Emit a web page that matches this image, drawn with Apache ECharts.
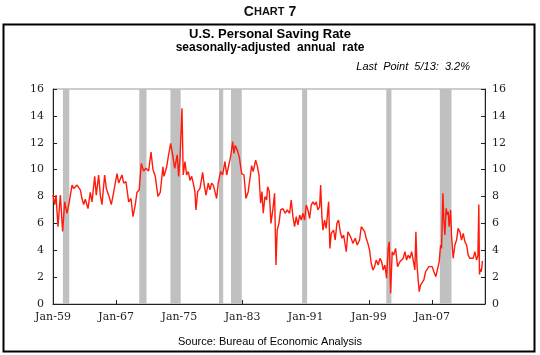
<!DOCTYPE html>
<html>
<head>
<meta charset="utf-8">
<script src="https://cdn.jsdelivr.net/npm/echarts@6/dist/echarts.min.js"></script>
<style>
html,body{margin:0;padding:0;background:#fff;}
#chart{width:540px;height:355px;}
</style>
</head>
<body>
<div id="chart"></div>
<script>
// Decimal-year dates and personal saving rate (%)
const dates = [
1959.0,1959.21,1959.38,1959.63,1959.93,1960.22,1960.48,1960.77,1961.06,1961.41,1961.62,1962.04,1962.46,1962.67,1962.88,
1963.09,1963.43,1963.72,1963.94,1964.28,1964.48,1964.78,1964.99,1965.2,1965.54,1965.75,1966.05,1966.38,1966.68,1967.1,
1967.32,1967.73,1967.95,1968.24,1968.58,1968.87,1969.13,1969.42,1969.63,1969.92,1970.18,1970.48,1970.77,1971.11,1971.41,
1971.66,1971.95,1972.29,1972.58,1972.92,1973.05,1973.39,1973.6,1973.9,1974.15,1974.41,1974.57,1974.73,1974.91,1975.08,
1975.33,1975.49,1975.71,1975.92,1976.13,1976.34,1976.56,1976.76,1976.97,1977.1,1977.32,1977.61,1977.95,1978.15,1978.37,
1978.66,1978.87,1979.09,1979.29,1979.51,1979.72,1979.92,1980.23,1980.48,1980.77,1980.99,1981.19,1981.49,1981.75,1981.91,
1982.08,1982.33,1982.58,1982.89,1983.18,1983.43,1983.72,1983.94,1984.15,1984.35,1984.66,1984.86,1985.08,1985.29,1985.46,
1985.62,1985.84,1986.05,1986.18,1986.38,1986.6,1986.85,1987.06,1987.23,1987.39,1987.61,1987.82,1988.11,1988.41,1988.66,
1988.96,1989.16,1989.38,1989.59,1989.8,1990.01,1990.23,1990.43,1990.65,1990.86,1991.06,1991.28,1991.49,1991.7,1991.91,
1992.13,1992.33,1992.54,1992.76,1992.89,1993.05,1993.18,1993.39,1993.59,1993.9,1994.06,1994.23,1994.53,1994.73,1994.95,
1995.16,1995.37,1995.58,1995.8,1996.0,1996.13,1996.34,1996.56,1996.76,1996.97,1997.27,1997.52,1997.82,1998.03,1998.24,
1998.46,1998.66,1998.87,1999.09,1999.29,1999.51,1999.72,1999.92,2000.18,2000.39,2000.61,2000.81,2001.03,2001.24,2001.44,
2001.57,2001.75,2001.95,2002.13,2002.38,2002.63,2002.92,2003.14,2003.34,2003.56,2003.77,2003.97,2004.19,2004.41,2004.61,
2004.82,2004.95,2005.08,2005.24,2005.37,2005.54,2005.75,2005.96,2006.18,2006.38,2006.59,2006.81,2007.01,2007.23,2007.48,
2007.7,2007.9,2008.08,2008.2,2008.37,2008.49,2008.62,2008.78,2008.91,2009.04,2009.16,2009.34,2009.47,2009.67,2009.89,
2010.1,2010.3,2010.52,2010.73,2010.94,2011.15,2011.37,2011.57,2011.78,2012.0,2012.2,2012.42,2012.63,2012.8,2012.92,
2013.0,2013.1,2013.2,2013.3,2013.37
];
const rates = [
8.1,7.4,8.1,5.75,8.1,5.4,7.6,6.75,7.6,8.85,8.6,8.85,8.5,7.85,7.4,
7.8,7.1,8.3,7.6,9.5,8.1,9.6,8.1,7.4,9.6,8.6,8.1,7.4,8.3,9.7,
9.0,9.6,9.0,9.1,7.6,7.85,6.5,7.4,8.3,8.5,10.45,9.9,10.1,9.9,11.3,
10.0,9.5,8.0,8.3,10.2,9.5,10.2,10.96,11.95,11.1,10.1,10.6,11.1,9.5,10.8,
14.56,9.6,10.6,9.6,9.85,9.2,9.5,9.0,8.36,7.0,8.36,8.6,9.8,8.85,8.1,
9.0,8.5,9.0,8.85,8.36,7.85,9.0,9.85,9.6,10.6,9.6,9.5,10.96,12.08,11.2,
11.8,11.45,10.96,9.7,9.6,7.85,8.36,9.35,10.3,9.85,10.7,10.3,9.6,7.5,8.36,
6.75,8.0,7.74,8.73,8.4,6.0,7.1,8.24,2.9,5.5,6.0,7.0,7.1,6.75,7.0,
6.75,7.74,6.5,5.75,6.5,5.88,6.62,6.25,6.75,6.25,7.37,7.0,6.37,7.37,7.6,
7.37,7.6,7.0,7.24,8.85,6.5,5.5,6.25,5.63,7.6,4.14,5.26,5.5,4.76,6.0,
6.25,5.38,4.89,5.13,4.39,3.89,5.38,5.13,4.89,4.51,4.89,4.39,4.76,5.75,5.88,
5.38,4.89,4.51,4.0,3.03,2.53,2.78,3.27,2.9,3.4,3.15,2.53,2.9,1.91,4.14,
4.64,0.8,3.89,3.64,4.14,2.78,3.15,3.03,3.4,3.89,3.27,3.64,3.4,3.89,3.27,
2.53,5.38,3.03,1.79,0.92,1.41,1.29,1.79,2.4,2.53,2.78,2.65,2.78,2.4,2.03,
2.15,3.15,4.39,4.14,8.24,6.25,5.13,7.12,6.63,6.87,5.75,7.0,5.0,3.4,4.39,
4.76,5.63,5.38,4.76,5.26,4.64,4.39,3.64,3.4,3.52,3.4,3.89,3.27,3.6,7.4,
2.2,2.6,2.4,2.7,3.2
];
// Recession periods (decimal years)
const recStarts = [1960.25,1969.92,1973.87,1980.02,1981.54,1990.54,2001.2,2007.98];
const recEnds   = [1961.06,1970.84,1975.17,1980.55,1982.9,1991.18,2001.85,2009.46];
const yTicks = [0,2,4,6,8,10,12,14,16];

const lineData = dates.map((d,i)=>[d,rates[i]]);
const areas = recStarts.map((s,i)=>[{xAxis:s},{xAxis:recEnds[i]}]);

const chart = echarts.init(document.getElementById('chart'), null, {renderer:'canvas'});
const serif = 'DejaVu Serif';
const yLab = {fontFamily:serif,fontSize:11,color:'#222'};
chart.setOption({
  animation:false,
  backgroundColor:'#fff',
  graphic:[
    {type:'rect',shape:{x:3.5,y:24.5,width:531,height:327},style:{fill:null,stroke:'#000',lineWidth:2}},
    {type:'text',left:'center',top:5,style:{
      text:'{a|C}{b|HART}{a| 7}',
      rich:{a:{fontFamily:'Liberation Sans',fontWeight:'bold',fontSize:14,fill:'#111'},
            b:{fontFamily:'Liberation Sans',fontWeight:'bold',fontSize:11,fill:'#111'}}}},
    {type:'text',left:'center',top:28,style:{text:'U.S. Personal Saving Rate',fontFamily:'Liberation Sans',fontWeight:'bold',fontSize:13,fill:'#000'}},
    {type:'text',left:'center',top:42,style:{text:'seasonally-adjusted  annual  rate',fontFamily:'Liberation Sans',fontWeight:'bold',fontSize:12,fill:'#000'}},
    {type:'text',right:70,top:61,style:{text:'Last  Point  5/13:  3.2%',fontFamily:'Liberation Sans',fontStyle:'italic',fontSize:11,fill:'#000'}},
    {type:'text',left:'center',top:336,style:{text:'Source: Bureau of Economic Analysis',fontFamily:'Liberation Sans',fontSize:11,fill:'#000'}}
  ],
  grid:{left:53,right:55,top:89,bottom:51,show:true,borderColor:'#999',borderWidth:1},
  xAxis:{
    type:'value',min:1959,max:2013.7,interval:8,
    axisLine:{show:true,lineStyle:{color:'#222',width:1}},
    axisTick:{show:true,inside:true,length:4,lineStyle:{color:'#222'}},
    splitLine:{show:false},
    axisLabel:{fontFamily:serif,fontSize:11,color:'#222',margin:8,showMaxLabel:false,
      formatter:function(v){ if((v-1959)%8!==0) return ''; return 'Jan-'+String(v).slice(2,4);}}
  },
  yAxis:[
    {type:'value',min:0,max:16,interval:2,position:'left',
     axisLine:{show:true,lineStyle:{color:'#222'}},
     axisTick:{show:true,inside:true,length:4,lineStyle:{color:'#222'}},
     splitLine:{show:false},
     axisLabel:Object.assign({margin:9},yLab)},
    {type:'value',min:0,max:16,interval:2,position:'right',
     axisLine:{show:true,lineStyle:{color:'#222'}},
     axisTick:{show:true,inside:true,length:4,lineStyle:{color:'#222'}},
     splitLine:{show:false},
     axisLabel:Object.assign({margin:7},yLab)}
  ],
  series:[
    {type:'line',data:lineData,showSymbol:false,symbol:'none',
     lineStyle:{color:'#ff1a0a',width:1.4},
     markArea:{silent:true,itemStyle:{color:'#c0c0c0',opacity:1},data:areas},
     z:3}
  ]
});
</script>
</body>
</html>
